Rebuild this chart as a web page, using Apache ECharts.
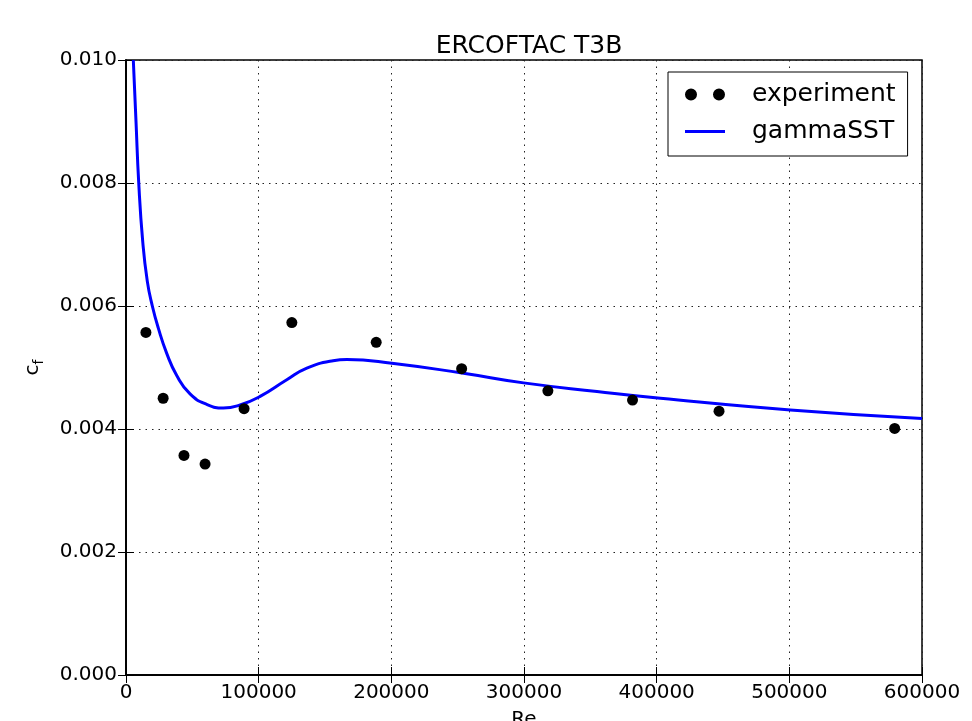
<!DOCTYPE html>
<html>
<head>
<meta charset="utf-8">
<script src="https://cdn.jsdelivr.net/npm/echarts@6/dist/echarts.min.js"></script>
<style>html,body{margin:0;padding:0;background:#fff}#c{width:972px;height:721px}</style>
</head>
<body>
<div id="c"></div>
<script>
var titleText = 'ERCOFTAC T3B';
var xName = 'Re';
var expRe = [15000, 28000, 43700, 59600, 89000, 125000, 188600, 253000, 318000, 381800, 447000, 579400];
var expCf = [0.00557, 0.00450, 0.00357, 0.00343, 0.00433, 0.00573, 0.00541, 0.00498, 0.00462, 0.00447, 0.00429, 0.00401];
var simRe = [5506, 7542, 9578, 12595, 16064, 19835, 24360, 30696, 38240, 48270, 60860, 73380, 86000, 101100, 121200, 136300, 156100, 166500, 200400, 253200, 299700, 355000, 402800, 500800, 600000];
var simCf = [0.0100, 0.0090, 0.00801, 0.00705, 0.00640, 0.00600, 0.00564, 0.00523, 0.00487, 0.00457, 0.00440, 0.00434, 0.00439, 0.00453, 0.00480, 0.00499, 0.00511, 0.00513, 0.00507, 0.00491, 0.00475, 0.00461, 0.00450, 0.00431, 0.00417];

var font = 'DejaVu Sans';
var expData = expRe.map(function(v,i){return [v, expCf[i]];});
var simData = simRe.map(function(v,i){return [v, simCf[i]];});

var chart = echarts.init(document.getElementById('c'), null, {renderer:'canvas'});
var gridLine = {show:true, lineStyle:{color:'#222', width:1, type:[1.5,5]}};
chart.setOption({
  animation:false,
  backgroundColor:'#fff',
  title:{text:titleText, left:524, textAlign:'center', top:29,
    textStyle:{fontFamily:font, fontSize:25, fontWeight:'normal', color:'#000'}},
  grid:{left:126, top:60, right:50, bottom:46, show:true, borderColor:'#000', borderWidth:1.5,
    backgroundColor:'transparent', containLabel:false, outerBoundsMode:'none'},
  legend:{orient:'vertical', left:668, top:72, padding:[9,12,11,17], itemGap:10,
    borderColor:'#000', borderWidth:1, backgroundColor:'#fff',
    itemWidth:40, itemHeight:12,
    textStyle:{fontFamily:font, fontSize:25, color:'#000', padding:[0,0,0,22], lineHeight:27},
    data:[
      {name:'experiment', icon:'path://M0,6a6,6 0 1,0 12,0a6,6 0 1,0 -12,0M28,6a6,6 0 1,0 12,0a6,6 0 1,0 -12,0', itemStyle:{color:'#000', opacity:1}},
      {name:'gammaSST', icon:'path://M0,0h40v3h-40z', itemStyle:{color:'#0000ff'}}
    ]},
  xAxis:[{type:'value', min:0, max:600000, interval:100000, name:xName, nameLocation:'middle', nameGap:35,
    nameTextStyle:{fontFamily:font, fontSize:20, color:'#000', verticalAlign:'top'},
    axisLine:{show:true, onZero:false, lineStyle:{color:'#000', width:1.5}},
    axisTick:{show:true, inside:true, length:8, lineStyle:{color:'#000', width:1}},
    axisLabel:{fontFamily:font, fontSize:20, color:'#000', margin:8, formatter:function(v){return String(v);}},
    splitLine:gridLine},
    {type:'value', position:'top', min:0, max:600000, interval:100000,
    axisLine:{show:true, lineStyle:{color:'#000', width:1.5}},
    axisTick:{show:true, inside:true, length:8, lineStyle:{color:'#000', width:1}},
    axisLabel:{show:false}, splitLine:{show:false}}],
  yAxis:[{type:'value', min:0, max:0.010, interval:0.002,
    name:'{c|c}{f|f}', nameLocation:'middle', nameGap:80, nameRotate:90,
    nameTextStyle:{fontFamily:font, color:'#000', rich:{c:{fontFamily:font, fontSize:20, color:'#000'}, f:{fontFamily:font, fontSize:14, color:'#000', padding:[12,0,0,0], verticalAlign:'bottom'}}},
    axisLine:{show:true, onZero:false, lineStyle:{color:'#000', width:1.5}},
    axisTick:{show:true, inside:true, length:8, lineStyle:{color:'#000', width:1}},
    axisLabel:{fontFamily:font, fontSize:20, color:'#000', margin:9, formatter:function(v){return v.toFixed(3);}},
    splitLine:gridLine},
    {type:'value', position:'right', min:0, max:0.010, interval:0.002,
    axisLine:{show:true, lineStyle:{color:'#000', width:1.5}},
    axisTick:{show:true, inside:true, length:8, lineStyle:{color:'#000', width:1}},
    axisLabel:{show:false}, splitLine:{show:false}}],
  series:[
    {name:'experiment', type:'scatter', data:expData, symbol:'circle', symbolSize:11,
      itemStyle:{color:'#000', opacity:1}, z:3},
    {name:'gammaSST', type:'line', data:simData, smooth:0.5, showSymbol:false, symbol:'none',
      lineStyle:{color:'#0000ff', width:3}, itemStyle:{color:'#0000ff'}, clip:true, z:2}
  ]
});
</script>
</body>
</html>
